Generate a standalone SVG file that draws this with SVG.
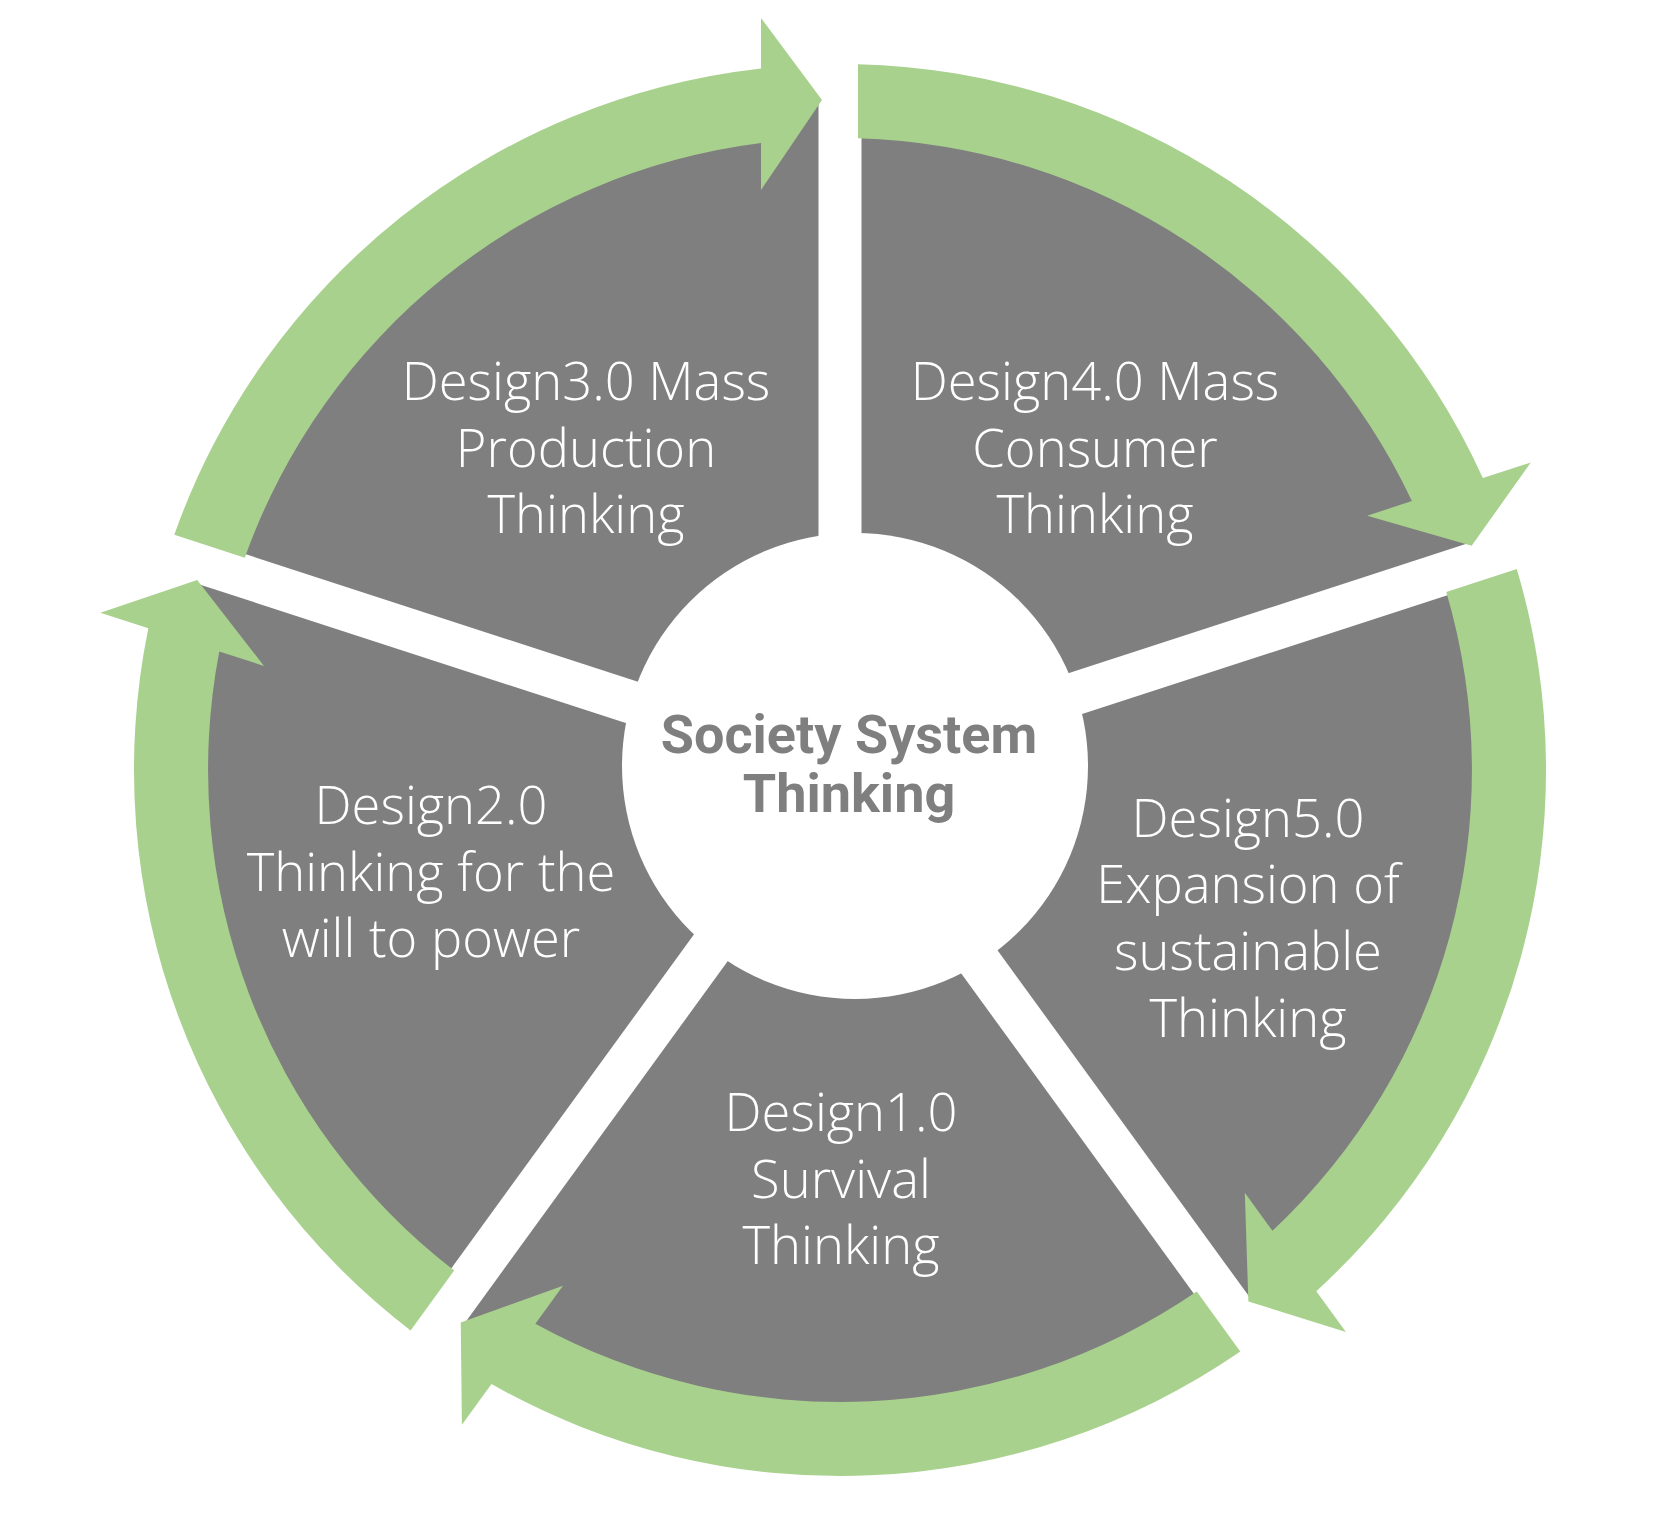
<svg xmlns="http://www.w3.org/2000/svg" width="1680" height="1540" viewBox="0 0 1680 1540">
  <style>
    .seg { fill: #7F7F7F; }
    .arrow { fill: #A9D18E; }
    .lbl { fill: #FFFFFF; font-family: "Open Sans", "Noto Sans", "DejaVu Sans", sans-serif; font-weight: 300; font-size: 52.5px; text-anchor: middle; }
    .ctr { fill: #7F7F7F; font-family: Roboto, "Liberation Sans", sans-serif; font-weight: bold; font-size: 54px; text-anchor: middle; }
  </style>
  <defs>
    <path id="segShape" d="M -21.5 -29.6 L -630.2 -227.4 A 670 670 0 0 1 -21.5 -669.65 Z"/>
    <path id="arrowShape" d="M -665.7 -235.2 A 706 706 0 0 1 -79 -701.6 L -79 -752 L -18 -670 L -79 -580 L -79 -627 A 632 632 0 0 0 -595.2 -212.3 Z"/>
  </defs>
  <rect width="1680" height="1540" fill="#FFFFFF"/>

  <g id="seg-design1">
    <use href="#segShape" class="seg" transform="translate(840,770) rotate(216)"/>
    <text class="lbl"><tspan x="841" y="1131">Design1.0</tspan><tspan x="841" y="1198">Survival</tspan><tspan x="841" y="1264">Thinking</tspan></text>
  </g>
  <g id="seg-design2">
    <use href="#segShape" class="seg" transform="translate(840,770) rotate(288)"/>
    <text class="lbl"><tspan x="431" y="824">Design2.0</tspan><tspan x="431" y="891">Thinking for the</tspan><tspan x="431" y="957">will to power</tspan></text>
  </g>
  <g id="seg-design3">
    <use href="#segShape" class="seg" transform="translate(840,770)"/>
    <text class="lbl"><tspan x="586" y="400">Design3.0 Mass</tspan><tspan x="586" y="467">Production</tspan><tspan x="586" y="533">Thinking</tspan></text>
  </g>
  <g id="seg-design4">
    <use href="#segShape" class="seg" transform="translate(840,770) rotate(72)"/>
    <text class="lbl"><tspan x="1095" y="400">Design4.0 Mass</tspan><tspan x="1095" y="467">Consumer</tspan><tspan x="1095" y="533">Thinking</tspan></text>
  </g>
  <g id="seg-design5">
    <use href="#segShape" class="seg" transform="translate(840,770) rotate(144)"/>
    <text class="lbl"><tspan x="1248" y="837">Design5.0</tspan><tspan x="1248" y="903">Expansion of</tspan><tspan x="1248" y="970">sustainable</tspan><tspan x="1248" y="1037">Thinking</tspan></text>
  </g>

  <g id="connectors">
    <use href="#arrowShape" class="arrow" transform="translate(840,770)"/>
    <use href="#arrowShape" class="arrow" transform="translate(840,770) rotate(72)"/>
    <use href="#arrowShape" class="arrow" transform="translate(840,770) rotate(144)"/>
    <use href="#arrowShape" class="arrow" transform="translate(840,770) rotate(216)"/>
    <use href="#arrowShape" class="arrow" transform="translate(840,770) rotate(288)"/>
  </g>

  <g id="center">
    <circle cx="855" cy="766" r="233" fill="#FFFFFF"/>
    <text class="ctr"><tspan x="849" y="753">Society System</tspan><tspan x="849" y="812">Thinking</tspan></text>
  </g>
</svg>
